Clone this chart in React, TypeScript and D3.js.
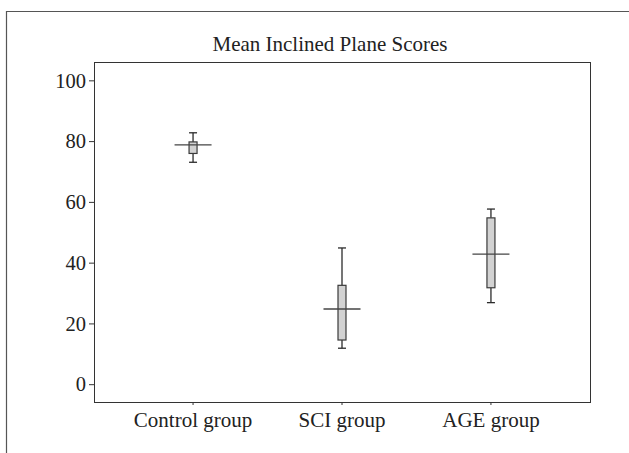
import * as d3 from 'd3'
import React from 'react'

// values
const groups = ['Control group', 'SCI group', 'AGE group']
const whiskerLow = [73.2, 12, 27]
const q1 = [76.1, 14.7, 31.9]
const median = [78.9, 24.9, 43]
const q3 = [79.9, 32.7, 54.9]
const whiskerHigh = [82.9, 45, 57.8]
const yTicks = [0, 20, 40, 60, 80, 100]

const W = 629
const H = 453
const left = 94, right = 590, top = 62, bottom = 402
const font = '"Liberation Serif", "Times New Roman", serif'

const App = () => {
  const x = d3.scalePoint<string>().domain(groups).range([left, right]).padding(0.665)
  const y = d3.scaleLinear().domain([-5.7, 106.2]).range([bottom, top])

  const boxW = 8
  const medW = 37
  const dark = '#2b2b2b'

  return (
    <svg width={W} height={H} style={{ position: 'absolute', left: 0, top: 0 }}>
      <rect x={0} y={0} width={W} height={H} fill="#fff" />
      {/* outer frame */}
      <path d={`M6.5,${H}V11.5H${W}`} fill="none" stroke="#555" strokeWidth={1.2} />

      <text x={330} y={51} textAnchor="middle" fontFamily={font} fontSize={21} fill="#222">
        Mean Inclined Plane Scores
      </text>

      <rect x={left + 0.5} y={top + 0.5} width={right - left} height={bottom - top}
        fill="none" stroke="#333" strokeWidth={1} />

      {yTicks.map(t => (
        <g key={t} transform={`translate(0,${y(t)})`}>
          <line x1={left - 5} x2={left} stroke="#333" />
          <text x={left - 8} dy="0.33em" textAnchor="end" fontFamily={font} fontSize={20.5} fill="#222">{t}</text>
        </g>
      ))}

      {groups.map(g => (
        <g key={g} transform={`translate(${x(g)},0)`}>
          <line y1={bottom} y2={bottom + 3} stroke="#333" />
          <text y={427} textAnchor="middle" fontFamily={font} fontSize={21} fill="#222">{g}</text>
        </g>
      ))}

      {groups.map((g, i) => {
        const cx = x(g)!
        return (
          <g key={'b' + g}>
            <line x1={cx} x2={cx} y1={y(whiskerHigh[i])} y2={y(q3[i])} stroke={dark} strokeWidth={1.3} />
            <line x1={cx} x2={cx} y1={y(q1[i])} y2={y(whiskerLow[i])} stroke={dark} strokeWidth={1.3} />
            <line x1={cx - boxW / 2} x2={cx + boxW / 2} y1={y(whiskerHigh[i])} y2={y(whiskerHigh[i])} stroke={dark} strokeWidth={1.3} />
            <line x1={cx - boxW / 2} x2={cx + boxW / 2} y1={y(whiskerLow[i])} y2={y(whiskerLow[i])} stroke={dark} strokeWidth={1.3} />
            <rect x={cx - boxW / 2} y={y(q3[i])} width={boxW} height={y(q1[i]) - y(q3[i])}
              fill="#d2d2d2" stroke="#3a3a3a" strokeWidth={1.2} />
            <line x1={cx - medW / 2} x2={cx + medW / 2} y1={y(median[i])} y2={y(median[i])} stroke="#444" strokeWidth={1.3} />
          </g>
        )
      })}
    </svg>
  )
}

export default App
